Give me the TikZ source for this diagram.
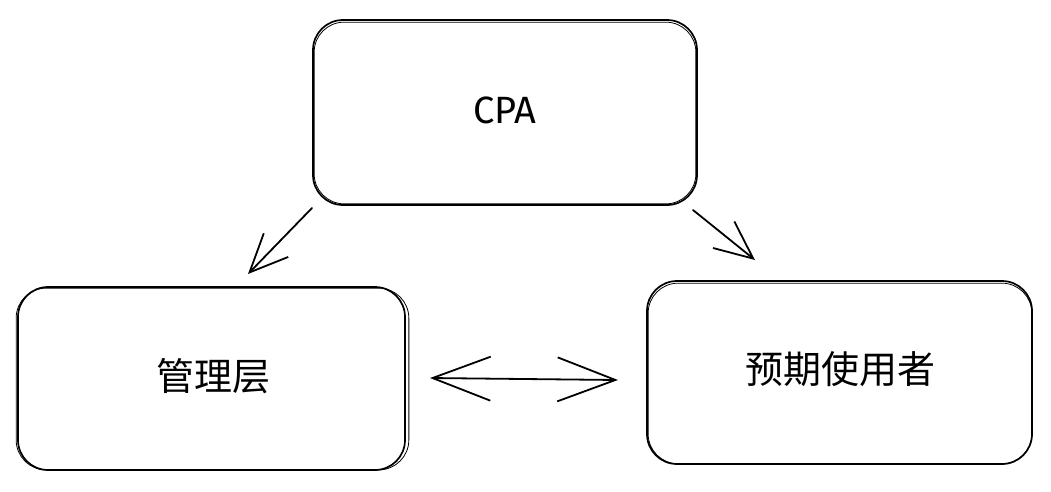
\documentclass[tikz,border=0pt]{standalone}
\usepackage{fontspec}
\newfontfamily\cjk{Noto Sans CJK SC}
\newfontfamily\latinhand{Fira Sans}
\usetikzlibrary{arrows.meta,calc}
\tikzset{
  sketchbox/.style={draw=black, line width=1.7pt, rounded corners=30pt, fill=white, inner sep=0pt},
  sketchline/.style={draw=black, line width=0.8pt, rounded corners=30pt},
  arr/.style={draw=black, line width=1.8pt, line cap=round, -{Straight Barb[length=38pt,width=34pt,line width=1.8pt]}},
  darr/.style={draw=black, line width=1.8pt, line cap=round, {Straight Barb[length=58pt,width=44pt,line width=1.8pt]}-{Straight Barb[length=58pt,width=44pt,line width=1.8pt]}},
  lbl/.style={font=\cjk\fontsize{38pt}{44pt}\selectfont}
}
\begin{document}
\begin{tikzpicture}[x=1pt,y=-1pt]
\path[fill=white] (0,0) rectangle (1051,491);
\node[sketchbox, minimum width=384pt, minimum height=185pt] (cpa) at (505,112.5) {};
\node[sketchbox, minimum width=387pt, minimum height=183pt] (mgmt) at (211.5,378.5) {};
\node[sketchbox, minimum width=385pt, minimum height=183pt] (user) at (839.5,372.5) {};
\draw[sketchline] ($(cpa.south west)+(2,-2)$) rectangle ($(cpa.north east)+(-2,3)$);
\draw[sketchline] ($(mgmt.south west)+(-1,-1)$) rectangle ($(mgmt.north east)+(3,2)$);
\draw[sketchline] ($(user.south west)+(2,-1)$) rectangle ($(user.north east)+(-1,3)$);
\node[font=\latinhand\fontsize{38pt}{42pt}\selectfont] (cpat) at (505,110) {CPA};
\node[lbl] (mgmtt) at (213,376) {管理层};
\node[lbl] (usert) at (840,369) {预期使用者};
\coordinate (a1s) at (312,208);
\coordinate (a1e) at (248,274);
\coordinate (a2s) at (693,210);
\coordinate (a2e) at (755,260);
\coordinate (a3s) at (430,378);
\coordinate (a3e) at (618,380);
\draw[arr] (a1s) -- (a1e);
\draw[arr] (a2s) -- (a2e);
\draw[darr] (a3s) -- (a3e);
\end{tikzpicture}
\end{document}
